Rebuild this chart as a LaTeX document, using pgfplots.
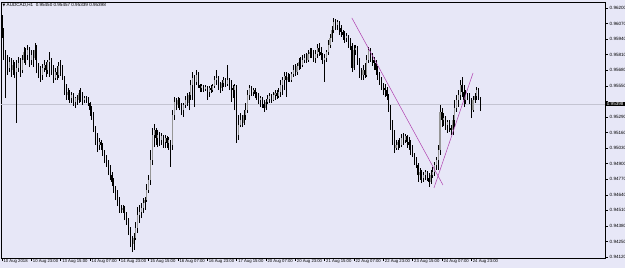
\documentclass[border=0pt]{standalone}
\usepackage{fontspec}
\setmainfont{Liberation Sans}
\newfontfamily\dejavu{DejaVu Sans}
\usepackage{pgfplots}
\usepackage{pgfplotstable}
\pgfplotsset{compat=1.18}
\definecolor{bg}{RGB}{231,231,247}
\definecolor{trend}{RGB}{176,64,176}
\definecolor{pline}{RGB}{196,196,210}
\definecolor{bull}{RGB}{150,150,150}
\pgfplotstableread{
i o h l c
0 0.96117 0.96142 0.95950 0.95975
1 0.95975 0.96033 0.95766 0.95808
2 0.95808 0.95849 0.95448 0.95749
3 0.95749 0.95808 0.95641 0.95699
4 0.95699 0.95791 0.95666 0.95749
5 0.95749 0.95782 0.95624 0.95682
6 0.95682 0.95766 0.95641 0.95724
7 0.95724 0.95749 0.95615 0.95666
8 0.95666 0.95766 0.95240 0.95699
9 0.95699 0.95791 0.95666 0.95741
10 0.95741 0.95782 0.95624 0.95682
11 0.95682 0.95808 0.95657 0.95766
12 0.95766 0.95874 0.95741 0.95833
13 0.95833 0.95866 0.95724 0.95808
14 0.95808 0.95891 0.95766 0.95849
15 0.95849 0.95874 0.95707 0.95766
16 0.95766 0.95849 0.95724 0.95808
17 0.95808 0.95849 0.95707 0.95782
18 0.95782 0.95908 0.95766 0.95849
19 0.95849 0.95891 0.95657 0.95724
20 0.95724 0.95741 0.95615 0.95666
21 0.95666 0.95716 0.95582 0.95641
22 0.95641 0.95732 0.95599 0.95699
23 0.95699 0.95766 0.95666 0.95724
24 0.95724 0.95749 0.95624 0.95682
25 0.95682 0.95766 0.95649 0.95749
26 0.95749 0.95833 0.95624 0.95766
27 0.95766 0.95782 0.95641 0.95682
28 0.95682 0.95724 0.95574 0.95615
29 0.95615 0.95699 0.95599 0.95666
30 0.95666 0.95716 0.95599 0.95641
31 0.95641 0.95749 0.95615 0.95716
32 0.95716 0.95766 0.95632 0.95682
33 0.95682 0.95724 0.95599 0.95615
34 0.95615 0.95632 0.95473 0.95532
35 0.95532 0.95565 0.95432 0.95473
36 0.95473 0.95532 0.95432 0.95498
37 0.95498 0.95515 0.95407 0.95448
38 0.95448 0.95498 0.95407 0.95473
39 0.95473 0.95490 0.95382 0.95415
40 0.95415 0.95457 0.95365 0.95448
41 0.95448 0.95473 0.95390 0.95432
42 0.95432 0.95515 0.95407 0.95490
43 0.95490 0.95532 0.95415 0.95457
44 0.95457 0.95498 0.95390 0.95432
45 0.95432 0.95465 0.95407 0.95448
46 0.95448 0.95465 0.95407 0.95432
47 0.95432 0.95457 0.95382 0.95407
48 0.95407 0.95415 0.95298 0.95348
49 0.95348 0.95382 0.95265 0.95306
50 0.95306 0.95332 0.95164 0.95198
51 0.95198 0.95215 0.95056 0.95098
52 0.95098 0.95156 0.94997 0.95056
53 0.95056 0.95114 0.95014 0.95081
54 0.95081 0.95098 0.95014 0.95056
55 0.95056 0.95073 0.94964 0.94997
56 0.94997 0.95014 0.94905 0.94947
57 0.94947 0.94972 0.94872 0.94914
58 0.94914 0.94931 0.94805 0.94864
59 0.94864 0.94889 0.94763 0.94805
60 0.94805 0.94830 0.94713 0.94747
61 0.94747 0.94780 0.94655 0.94697
62 0.94697 0.94713 0.94596 0.94638
63 0.94638 0.94680 0.94546 0.94596
64 0.94596 0.94621 0.94488 0.94530
65 0.94530 0.94555 0.94488 0.94513
66 0.94513 0.94555 0.94488 0.94530
67 0.94530 0.94546 0.94429 0.94471
68 0.94471 0.94496 0.94388 0.94429
69 0.94429 0.94446 0.94304 0.94346
70 0.94346 0.94371 0.94204 0.94262
71 0.94262 0.94296 0.94162 0.94229
72 0.94229 0.94321 0.94179 0.94279
73 0.94279 0.94413 0.94262 0.94363
74 0.94363 0.94538 0.94321 0.94471
75 0.94471 0.94555 0.94404 0.94496
76 0.94496 0.94571 0.94446 0.94530
77 0.94530 0.94613 0.94488 0.94571
78 0.94571 0.94621 0.94513 0.94596
79 0.94596 0.94730 0.94580 0.94680
80 0.94680 0.94805 0.94655 0.94763
81 0.94763 0.95014 0.94722 0.94931
82 0.94931 0.95198 0.94889 0.95139
83 0.95139 0.95231 0.95039 0.95181
84 0.95181 0.95198 0.95056 0.95114
85 0.95114 0.95181 0.95039 0.95139
86 0.95139 0.95164 0.95047 0.95098
87 0.95098 0.95156 0.95056 0.95131
88 0.95131 0.95139 0.95031 0.95081
89 0.95081 0.95139 0.95031 0.95114
90 0.95114 0.95131 0.95031 0.95073
91 0.95073 0.95123 0.95014 0.95098
92 0.95098 0.95098 0.94872 0.95056
93 0.95056 0.95348 0.95014 0.95306
94 0.95306 0.95457 0.95265 0.95415
95 0.95415 0.95448 0.95348 0.95390
96 0.95390 0.95457 0.95365 0.95432
97 0.95432 0.95448 0.95348 0.95382
98 0.95382 0.95407 0.95306 0.95348
99 0.95348 0.95407 0.95290 0.95390
100 0.95390 0.95465 0.95365 0.95432
101 0.95432 0.95490 0.95382 0.95407
102 0.95407 0.95498 0.95348 0.95473
103 0.95473 0.95599 0.95432 0.95557
104 0.95557 0.95666 0.95432 0.95615
105 0.95615 0.95641 0.95373 0.95582
106 0.95582 0.95682 0.95557 0.95641
107 0.95641 0.95666 0.95532 0.95557
108 0.95557 0.95565 0.95498 0.95532
109 0.95532 0.95565 0.95498 0.95549
110 0.95549 0.95557 0.95498 0.95524
111 0.95524 0.95557 0.95507 0.95540
112 0.95540 0.95549 0.95432 0.95498
113 0.95498 0.95549 0.95457 0.95532
114 0.95532 0.95557 0.95490 0.95515
115 0.95515 0.95565 0.95498 0.95549
116 0.95549 0.95632 0.95532 0.95599
117 0.95599 0.95682 0.95557 0.95615
118 0.95615 0.95632 0.95515 0.95557
119 0.95557 0.95582 0.95490 0.95532
120 0.95532 0.95599 0.95507 0.95574
121 0.95574 0.95624 0.95540 0.95599
122 0.95599 0.95615 0.95540 0.95565
123 0.95565 0.95724 0.95549 0.95599
124 0.95599 0.95615 0.95515 0.95557
125 0.95557 0.95599 0.95415 0.95532
126 0.95532 0.95557 0.95448 0.95515
127 0.95515 0.95565 0.95348 0.95549
128 0.95549 0.95557 0.95073 0.95139
129 0.95139 0.95306 0.95098 0.95223
130 0.95223 0.95323 0.95206 0.95265
131 0.95265 0.95306 0.95206 0.95240
132 0.95240 0.95348 0.95223 0.95306
133 0.95306 0.95407 0.95265 0.95348
134 0.95348 0.95515 0.95323 0.95473
135 0.95473 0.95557 0.95432 0.95532
136 0.95532 0.95549 0.95465 0.95498
137 0.95498 0.95532 0.95465 0.95515
138 0.95515 0.95532 0.95448 0.95482
139 0.95482 0.95498 0.95432 0.95457
140 0.95457 0.95490 0.95398 0.95432
141 0.95432 0.95465 0.95373 0.95448
142 0.95448 0.95457 0.95365 0.95398
143 0.95398 0.95432 0.95332 0.95365
144 0.95365 0.95440 0.95348 0.95415
145 0.95415 0.95473 0.95398 0.95440
146 0.95440 0.95490 0.95407 0.95465
147 0.95465 0.95482 0.95407 0.95432
148 0.95432 0.95498 0.95423 0.95473
149 0.95473 0.95515 0.95432 0.95490
150 0.95490 0.95515 0.95440 0.95465
151 0.95465 0.95532 0.95448 0.95498
152 0.95498 0.95599 0.95457 0.95557
153 0.95557 0.95624 0.95473 0.95599
154 0.95599 0.95666 0.95515 0.95632
155 0.95632 0.95666 0.95457 0.95599
156 0.95599 0.95657 0.95582 0.95624
157 0.95624 0.95649 0.95582 0.95599
158 0.95599 0.95666 0.95582 0.95649
159 0.95649 0.95724 0.95624 0.95682
160 0.95682 0.95732 0.95632 0.95666
161 0.95666 0.95741 0.95641 0.95716
162 0.95716 0.95782 0.95682 0.95749
163 0.95749 0.95791 0.95691 0.95724
164 0.95724 0.95808 0.95707 0.95766
165 0.95766 0.95816 0.95741 0.95782
166 0.95782 0.95824 0.95741 0.95766
167 0.95766 0.95849 0.95749 0.95816
168 0.95816 0.95866 0.95782 0.95833
169 0.95833 0.95866 0.95782 0.95808
170 0.95808 0.95849 0.95749 0.95782
171 0.95782 0.95849 0.95741 0.95816
172 0.95816 0.95899 0.95782 0.95866
173 0.95866 0.95908 0.95799 0.95833
174 0.95833 0.95874 0.95766 0.95808
175 0.95808 0.95824 0.95732 0.95766
176 0.95766 0.95816 0.95582 0.95782
177 0.95782 0.95849 0.95749 0.95833
178 0.95833 0.95933 0.95808 0.95891
179 0.95891 0.95983 0.95866 0.95950
180 0.95950 0.96050 0.95916 0.96016
181 0.96016 0.96117 0.95991 0.96083
182 0.96083 0.96108 0.96016 0.96058
183 0.96058 0.96100 0.96016 0.96083
184 0.96083 0.96092 0.95975 0.96033
185 0.96033 0.96058 0.95958 0.96000
186 0.96000 0.96016 0.95933 0.95975
187 0.95975 0.96008 0.95908 0.95950
188 0.95950 0.95991 0.95916 0.95966
189 0.95966 0.95975 0.95866 0.95916
190 0.95916 0.95950 0.95849 0.95883
191 0.95883 0.95908 0.95666 0.95699
192 0.95699 0.95891 0.95682 0.95849
193 0.95849 0.95891 0.95808 0.95866
194 0.95866 0.95883 0.95724 0.95766
195 0.95766 0.95782 0.95615 0.95666
196 0.95666 0.95699 0.95599 0.95641
197 0.95641 0.95724 0.95599 0.95682
198 0.95682 0.95741 0.95615 0.95641
199 0.95641 0.95808 0.95624 0.95766
200 0.95766 0.95874 0.95741 0.95849
201 0.95849 0.95866 0.95749 0.95799
202 0.95799 0.95824 0.95716 0.95766
203 0.95766 0.95791 0.95682 0.95741
204 0.95741 0.95766 0.95641 0.95682
205 0.95682 0.95716 0.95599 0.95641
206 0.95641 0.95666 0.95557 0.95599
207 0.95599 0.95624 0.95515 0.95557
208 0.95557 0.95574 0.95473 0.95532
209 0.95532 0.95565 0.95457 0.95515
210 0.95515 0.95540 0.95432 0.95465
211 0.95465 0.95482 0.95332 0.95365
212 0.95365 0.95390 0.95181 0.95248
213 0.95248 0.95265 0.95056 0.95114
214 0.95114 0.95181 0.94989 0.95031
215 0.95031 0.95098 0.95014 0.95056
216 0.95056 0.95098 0.95014 0.95081
217 0.95081 0.95114 0.95031 0.95056
218 0.95056 0.95148 0.95039 0.95114
219 0.95114 0.95156 0.95056 0.95098
220 0.95098 0.95148 0.95073 0.95131
221 0.95131 0.95139 0.95031 0.95081
222 0.95081 0.95123 0.95014 0.95056
223 0.95056 0.95098 0.94972 0.95014
224 0.95014 0.95056 0.94956 0.94972
225 0.94972 0.94989 0.94889 0.94931
226 0.94931 0.94956 0.94864 0.94889
227 0.94889 0.94905 0.94747 0.94805
228 0.94805 0.94864 0.94763 0.94830
229 0.94830 0.94847 0.94738 0.94780
230 0.94780 0.94830 0.94747 0.94805
231 0.94805 0.94847 0.94763 0.94830
232 0.94830 0.94839 0.94755 0.94780
233 0.94780 0.94822 0.94705 0.94747
234 0.94747 0.94847 0.94730 0.94805
235 0.94805 0.94872 0.94780 0.94830
236 0.94830 0.94914 0.94797 0.94889
237 0.94889 0.94956 0.94847 0.94931
238 0.94931 0.95056 0.94847 0.95014
239 0.95014 0.95390 0.94972 0.95332
240 0.95332 0.95365 0.95206 0.95265
241 0.95265 0.95323 0.95215 0.95281
242 0.95281 0.95298 0.95181 0.95223
243 0.95223 0.95265 0.95156 0.95248
244 0.95248 0.95265 0.95164 0.95198
245 0.95198 0.95223 0.95139 0.95181
246 0.95181 0.95306 0.95139 0.95265
247 0.95265 0.95432 0.95206 0.95365
248 0.95365 0.95473 0.95332 0.95432
249 0.95432 0.95515 0.95373 0.95473
250 0.95473 0.95599 0.95432 0.95557
251 0.95557 0.95624 0.95457 0.95498
252 0.95498 0.95557 0.95373 0.95432
253 0.95432 0.95515 0.95398 0.95473
254 0.95473 0.95490 0.95432 0.95457
255 0.95457 0.95490 0.95398 0.95432
256 0.95432 0.95448 0.95281 0.95348
257 0.95348 0.95465 0.95332 0.95432
258 0.95432 0.95490 0.95407 0.95465
259 0.95465 0.95540 0.95432 0.95515
260 0.95515 0.95532 0.95432 0.95473
261 0.95450 0.95457 0.95339 0.95398
}\candles
\begin{document}
\begin{tikzpicture}
\path[fill=bg] (-1bp,-10bp) rectangle (624bp,258bp);
\begin{axis}[
  scale only axis, width=604bp, height=256bp,
  xmin=-0.5, xmax=329, ymin=0.94112, ymax=0.96250,
  axis background/.style={fill=bg},
  axis line style={black, line width=0.5bp},
  clip=false,
  tick align=outside,
  major tick length=3bp,
  tick style={black, line width=0.4bp},
  xtick pos=bottom, ytick pos=right,
  yticklabel pos=right,
  xtick={0,16,32,48,64,80,96,112,128,144,160,176,192,208,224,240,256},
  xticklabels={10 Aug 2018,10 Aug 23:00,13 Aug 15:00,14 Aug 07:00,14 Aug 23:00,15 Aug 15:00,16 Aug 07:00,16 Aug 23:00,17 Aug 15:00,20 Aug 07:00,20 Aug 23:00,21 Aug 15:00,22 Aug 07:00,22 Aug 23:00,23 Aug 15:00,24 Aug 07:00,24 Aug 23:00},
  ytick={0.94120,0.94250,0.94380,0.94510,0.94640,0.94770,0.94900,0.95030,0.95160,0.95290,0.95420,0.95550,0.95680,0.95810,0.95940,0.96070,0.96200},
  yticklabels={0.94120,0.94250,0.94380,0.94510,0.94640,0.94770,0.94900,0.95030,0.95160,0.95290,{},0.95550,0.95680,0.95810,0.95940,0.96070,0.96200},
  ticklabel style={font=\fontsize{4.6}{5}\selectfont, inner sep=0pt},
  xticklabel style={anchor=north west, xshift=1.5bp, yshift=2bp, font=\fontsize{4.25}{5}\selectfont},
  yticklabel style={anchor=west, xshift=1.5bp},
  /pgf/number format/assume math mode=true,
]
% current price line
\addplot[color=pline, line width=0.4bp, forget plot] coordinates {(-0.5,0.95398) (329,0.95398)};
% wicks
\addplot[draw=none, mark=none, forget plot,
  error bars/.cd, y dir=plus, y explicit, error mark=none,
  error bar style={draw=black, line width=0.5bp}]
  table[x=i, y=l, y error expr=\thisrow{h}-\thisrow{l}] {\candles};
% bull bodies
\addplot[draw=none, mark=none, forget plot,
  restrict expr to domain={\thisrow{c}-\thisrow{o}}{0.000001:1},
  error bars/.cd, y dir=plus, y explicit, error mark=none,
  error bar style={draw=bull, line width=1.1bp}]
  table[x=i, y=o, y error expr=\thisrow{c}-\thisrow{o}] {\candles};
% bear bodies
\addplot[draw=none, mark=none, forget plot,
  restrict expr to domain={\thisrow{c}-\thisrow{o}}{-1:-0.000001},
  error bars/.cd, y dir=plus, y explicit, error mark=none,
  error bar style={draw=black, line width=1.1bp}]
  table[x=i, y=c, y error expr=\thisrow{o}-\thisrow{c}] {\candles};
% trend lines
\addplot[color=trend, line width=0.5bp] coordinates {(190.9,0.96117) (240.6,0.94722)};
\addplot[color=trend, line width=0.5bp] coordinates {(235.7,0.94697) (257.0,0.95657)};
% title and current price label
\node[anchor=north west, inner sep=0pt, font=\fontsize{4.6}{5}\selectfont] at (rel axis cs:0,1) [xshift=1.5bp, yshift=-1.5bp] {{\dejavu\fontsize{3.6}{4}\selectfont ▼}\ AUDCAD,H1\ \ 0.95450 0.95457 0.95339 0.95398};
\node[anchor=west, fill=black, text=white, inner xsep=1.2bp, inner ysep=0.8bp, font=\fontsize{4.6}{5}\selectfont] at (axis cs:329,0.95398) [xshift=0.5bp] {0.95398};
\end{axis}
\pgfresetboundingbox
\path[use as bounding box] (-1bp,-10bp) rectangle (624bp,258bp);
\end{tikzpicture}
\end{document}
